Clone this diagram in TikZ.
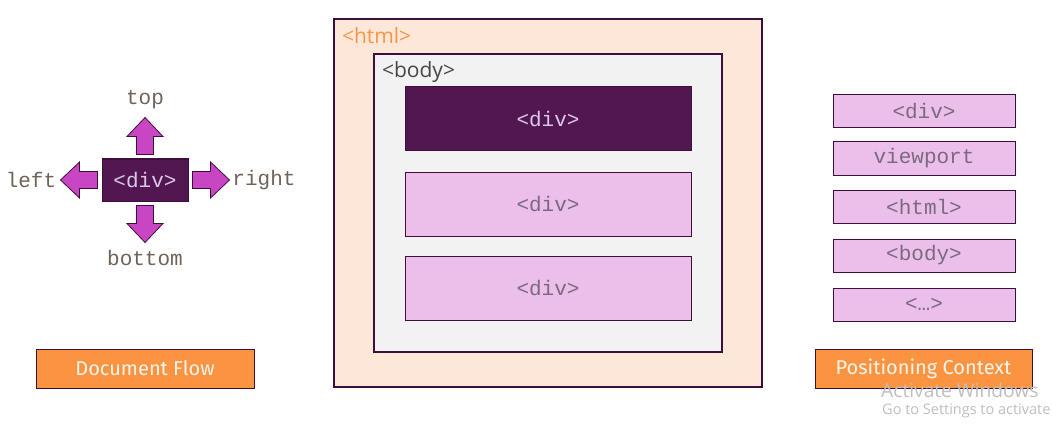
\documentclass[tikz,border=0pt]{standalone}
\usepackage{fontspec}
\setmainfont{Fira Sans}
\newfontfamily\codefont{Liberation Mono}
\newfontfamily\tagfont{Open Sans}
\usetikzlibrary{positioning,calc}

\definecolor{plum}{HTML}{521751}
\definecolor{plumline}{HTML}{3F0E3C}
\definecolor{pushpink}{HTML}{C845C4}
\definecolor{softpink}{HTML}{ECBFEA}
\definecolor{peach}{HTML}{FDE7D8}
\definecolor{bodygray}{HTML}{F2F2F2}
\definecolor{caporange}{HTML}{FB9441}
\definecolor{htmlorange}{HTML}{F79646}
\definecolor{codegray}{HTML}{7A6A80}
\definecolor{sidegray}{HTML}{6F635A}
\definecolor{divtext}{HTML}{DCC8E8}

\tikzset{
  darkdiv/.style={draw=plumline, line width=1pt, fill=plum, text=divtext,
    font=\codefont\fontsize{21}{24}\selectfont},
  lightdiv/.style={draw=plumline, line width=1pt, fill=softpink, text=codegray,
    font=\codefont\fontsize{21}{24}\selectfont},
  stackbox/.style={lightdiv, minimum width=182pt, minimum height=33pt, inner sep=0pt},
  pusharrow/.style={draw=plumline, line width=0.8pt, fill=pushpink},
  sidelabel/.style={text=sidegray, font=\codefont\fontsize{21}{24}\selectfont},
  capbox/.style={draw=plumline, line width=1pt, fill=caporange, text=white!90!caporange,
    font=\fontsize{20}{24}\selectfont, minimum height=39pt, inner sep=0pt},
  frame/.style={draw=plumline, line width=2.4pt},
  tagtext/.style={font=\tagfont\fontsize{21}{24}\selectfont, inner sep=0pt},
  watermark/.style={text=black!25, font=\tagfont, inner sep=0pt}
}

\begin{document}
\begin{tikzpicture}[x=1pt,y=-1pt]
  \useasboundingbox[fill=white] (0,0) rectangle (1052,433);

  % document flow
  \node[darkdiv, minimum width=86pt, minimum height=42pt, inner sep=0pt] (flowdiv) at (145,180) {<div>};
  \foreach \side/\ang in {north/90, south/-90, west/180, east/0}
    \draw[pusharrow, shift={(flowdiv.\side)}, rotate=\ang]
      (4,-8.5) -- (22,-8.5) -- (22,-18) -- (41,0) -- (22,18) -- (22,8.5) -- (4,8.5) -- cycle;
  \node[sidelabel] (toplbl) at (145,100) {top};
  \node[sidelabel] (bottomlbl) at (145,258) {bottom};
  \node[sidelabel] (leftlbl) at (31,180) {left};
  \node[sidelabel] (rightlbl) at (264,180) {right};
  \node[capbox, minimum width=218pt] (flowcap) at (145,368.5) {Document Flow};

  % nested boxes
  \node[frame, fill=peach, minimum width=428pt, minimum height=368pt] (htmlbox) at (548,203) {};
  \node[frame, fill=bodygray, minimum width=348pt, minimum height=298pt] (bodybox) at (548,203) {};
  \node[tagtext, text=htmlorange, anchor=west] (htmltag) at ($(htmlbox.north west)+(9,18)$) {<html>};
  \node[tagtext, text=black!72, anchor=west] (bodytag) at ($(bodybox.north west)+(9,19)$) {<body>};
  \node[darkdiv, minimum width=286pt, minimum height=64pt] (divone) at (548,119) {<div>};
  \node[lightdiv, minimum width=286pt, minimum height=64pt] (divtwo) at (548,204) {<div>};
  \node[lightdiv, minimum width=286pt, minimum height=64pt] (divthree) at (548,288) {<div>};

  % positioning context
  \node[stackbox] (ctxdiv) at (924,111.5) {<div>};
  \node[stackbox, below=13pt of ctxdiv] (ctxview) {viewport};
  \node[stackbox, below=14pt of ctxview] (ctxhtml) {<html>};
  \node[stackbox, below=15pt of ctxhtml] (ctxbody) {<body>};
  \node[stackbox, below=15pt of ctxbody] (ctxmore) {<…>};
  \node[capbox, minimum width=217pt] (ctxcap) at (923.5,368.5) {Positioning Context};

  % watermark
  \node[watermark, anchor=west, font=\tagfont\fontsize{19.2}{21}\selectfont] (wmtitle) at (881,390) {Activate Windows};
  \node[watermark, anchor=west, font=\tagfont\fontsize{14.5}{17}\selectfont] (wmnote) at (882,411) {Go to Settings to activate};
\end{tikzpicture}
\end{document}
